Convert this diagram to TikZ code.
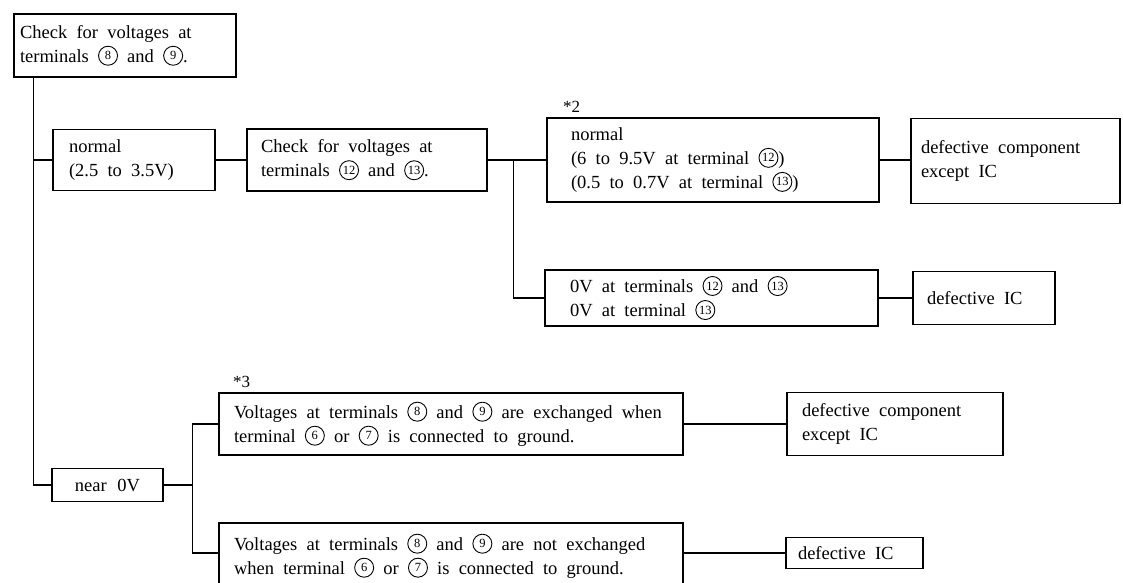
\documentclass[tikz,border=0pt]{standalone}
\usepackage{fontspec}
\setmainfont{Liberation Serif}
\usetikzlibrary{calc}
\newcommand{\cn}[1]{\tikz[baseline={([yshift=-2.5pt]cnX.base)}]\node[circle,draw,line width=0.9pt,inner sep=0pt,minimum size=19pt,font=\fontsize{12.5}{12.5}\selectfont](cnX){#1};}
\newcommand{\widesp}{\spaceskip=0.5em plus 0.2em\relax}
\tikzset{
  box/.style={draw,line width=1.4pt,inner xsep=8pt,inner ysep=2pt,align=left,
    font=\fontsize{18.5}{24}\selectfont, execute at begin node=\widesp},
  conn/.style={line width=1.4pt},
  note/.style={font=\fontsize{17}{17}\selectfont,inner sep=0pt},
}
\begin{document}
\begin{tikzpicture}[x=1pt,y=-1pt]
\useasboundingbox (0,0) rectangle (1123,582);
\node[box,minimum width=222pt,minimum height=63pt,text width=210pt,inner xsep=6pt] (b1) at (125,45.5)
  {Check for voltages at\\terminals \cn{8} and \cn{9}.};
\node[box,minimum width=162pt,minimum height=61pt,text width=130pt,inner xsep=16pt] (n1) at (134,160)
  {normal\\(2.5 to 3.5V)};
\node[box,minimum width=240pt,minimum height=62pt,text width=212pt,inner xsep=14pt] (c2) at (367,160)
  {Check for voltages at\\terminals \cn{12} and \cn{13}.};
\node[box,minimum width=332pt,minimum height=84pt,text width=284pt,inner xsep=24pt] (n2) at (713,160)
  {normal\\(6 to 9.5V at terminal \cn{12})\\(0.5 to 0.7V at terminal \cn{13})};
\node[box,minimum width=209pt,minimum height=85pt,text width=189pt,inner xsep=10pt] (d1) at (1015.5,161)
  {defective component\\except IC};
\node[box,minimum width=333pt,minimum height=56pt,text width=283pt,inner xsep=25pt] (z) at (711.5,298)
  {0V at terminals \cn{12} and \cn{13}\\0V at terminal \cn{13}};
\node[box,minimum width=142pt,minimum height=53pt,text width=114pt,inner xsep=14pt] (d2) at (984,298)
  {defective IC};
\node[box,minimum width=111pt,minimum height=33pt,text width=95pt,align=center] (near) at (107.5,485)
  {near 0V};
\node[box,minimum width=464pt,minimum height=62pt,text width=434pt,inner xsep=15pt] (v1) at (451,424)
  {Voltages at terminals \cn{8} and \cn{9} are exchanged when\\terminal \cn{6} or \cn{7} is connected to ground.};
\node[box,minimum width=464pt,minimum height=66pt,text width=434pt,inner xsep=15pt] (v2) at (451,556)
  {Voltages at terminals \cn{8} and \cn{9} are not exchanged\\when terminal \cn{6} or \cn{7} is connected to ground.};
\node[box,minimum width=216pt,minimum height=63pt,text width=186pt,inner xsep=15pt] (d3) at (895,424)
  {defective component\\except IC};
\node[box,minimum width=137pt,minimum height=31pt,text width=113pt,inner xsep=12pt] (d4) at (854.5,553)
  {defective IC};
\node[note,anchor=south west] (s2) at (563,113) {*2};
\node[note,anchor=south west] (s3) at (233,388) {*3};
% connectors
\coordinate (t) at ($(b1.south west)+(20,0)$);
\draw[conn] (t) |- (n1.west);
\draw[conn] (t) |- (near.west);
\draw[conn] (n1.east) -- (c2.east -| c2.west);
\coordinate (br1) at ($(c2.east)+(26,0)$);
\draw[conn] (c2.east) -- (n2.west);
\draw[conn] (br1) |- (z.west);
\draw[conn] (n2.east) -- (n2.east -| d1.west);
\draw[conn] (z.east) -- (d2.west);
\coordinate (br2) at ($(near.east)+(29,0)$);
\draw[conn] (near.east) -- (br2);
\draw[conn] (br2) |- (v1.west);
\draw[conn] (br2) |- (d4.west -| v2.west);
\draw[conn] (v1.east) -- (d3.west);
\draw[conn] (d4.west -| v2.east) -- (d4.west);
\end{tikzpicture}
\end{document}
